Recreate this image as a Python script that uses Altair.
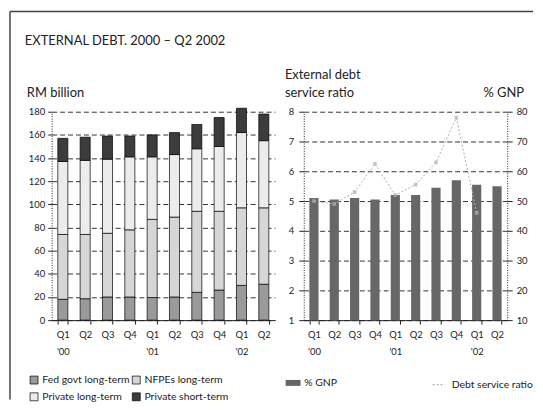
import altair as alt
import pandas as pd

# ---------------- data ----------------
quarters = ["Q1 '00", "Q2 '00", "Q3 '00", "Q4 '00", "Q1 '01", "Q2 '01",
            "Q3 '01", "Q4 '01", "Q1 '02", "Q2 '02"]
components = ["Fed govt long-term", "NFPEs long-term",
              "Private long-term", "Private short-term"]
fed_govt = [18, 18.5, 20, 20, 19.5, 20, 24, 26, 30, 31]
nfpes = [56, 55.5, 55, 58, 67.5, 69, 70, 68, 67, 66]
private_lt = [63, 64, 64, 63, 54, 54, 54, 56, 65, 58]
private_st = [20, 20, 20, 18, 19, 19, 21, 25, 21, 23]
pct_gnp = [51, 50.5, 51, 50.5, 52, 52, 54.5, 57, 55.5, 55]
debt_service = [5.0, 4.9, 5.3, 6.25, 5.2, 5.55, 6.3, 7.8, 4.6, None]

component_colors = {"Fed govt long-term": "#9a9a9a", "NFPEs long-term": "#d6d6d6",
                    "Private long-term": "#ececec", "Private short-term": "#3c3c3c"}
# legend fills column by column: order so rows read Fed/NFPEs, Private LT/ST
legend_order = ["Fed govt long-term", "Private long-term",
                "NFPEs long-term", "Private short-term"]

FONT = "Lato"
INK = "#222222"

rows = []
for i, (comp, vals) in enumerate(zip(components, [fed_govt, nfpes, private_lt, private_st])):
    for q, v in zip(quarters, vals):
        rows.append({"quarter": q, "component": comp, "value": v, "order": i})
left_df = pd.DataFrame(rows)

right_df = pd.DataFrame({"quarter": quarters, "gnp": pct_gnp, "gl": "% GNP"})
dsr_df = pd.DataFrame({"quarter": quarters, "dsr": debt_service,
                       "dl": "Debt service ratio"}).dropna()
one = pd.DataFrame({"k": [0]})

LABEL_EXPR = ("substring(datum.label,0,2) == 'Q1' ? "
              "[substring(datum.label,0,2), substring(datum.label,3)] : "
              "substring(datum.label,0,2)")

base_axis = dict(labelFont=FONT, labelFontSize=9.5, labelColor=INK,
                 tickColor=INK, domainColor=INK)


def x_enc():
    return alt.X("quarter:N", sort=quarters,
                 scale=alt.Scale(paddingInner=0.55, paddingOuter=0.275),
                 axis=alt.Axis(title=None, labelAngle=0, labelExpr=LABEL_EXPR,
                               labelLineHeight=17, tickBand="extent", tickSize=4,
                               labelPadding=6, **base_axis))


grid_style = dict(grid=True, gridDash=[5, 3], gridColor="black", gridWidth=0.8,
                  gridOpacity=1)

# ---------------- left panel ----------------
bars = alt.Chart(left_df).mark_bar(stroke="black", strokeWidth=0.7).encode(
    x=x_enc(),
    y=alt.Y("value:Q", stack="zero",
            scale=alt.Scale(domain=[0, 180], nice=False),
            axis=alt.Axis(title=None, values=list(range(0, 181, 20)),
                          domainDash=[1, 1.5], tickSize=4, labelPadding=3,
                          **grid_style, **base_axis)),
    color=alt.Color("component:N",
                    scale=alt.Scale(domain=legend_order,
                                    range=[component_colors[c] for c in legend_order]),
                    legend=alt.Legend(orient="none", legendX=-23, legendY=265,
                                      columns=2, title=None, symbolType="square",
                                      symbolSize=64, symbolStrokeColor="black",
                                      symbolStrokeWidth=0.7, labelFont=FONT,
                                      labelFontSize=10.5, labelColor=INK,
                                      columnPadding=0, rowPadding=5, padding=0,
                                      labelOffset=3)),
    order=alt.Order("order:Q"),
)

frame_left = alt.Chart(one).mark_rule(color="#444", strokeWidth=1.5).encode(
    x=alt.value(-42), y=alt.value(-101), y2=alt.value(290))
frame_top = alt.Chart(one).mark_rule(color="#444", strokeWidth=1.5).encode(
    x=alt.value(-42), x2=alt.value(485), y=alt.value(-101))

title_txt = alt.Chart(one).mark_text(
    text="EXTERNAL DEBT. 2000 – Q2 2002", align="left", baseline="middle",
    font=FONT, fontSize=13, color=INK).encode(x=alt.value(-27), y=alt.value(-71))
rm_txt = alt.Chart(one).mark_text(
    text="RM billion", align="left", baseline="middle",
    font=FONT, fontSize=13, color=INK).encode(x=alt.value(-25), y=alt.value(-19))

left = alt.layer(bars, frame_left, frame_top, title_txt, rm_txt).properties(
    width=225, height=210)

# ---------------- right panel ----------------
gnp_bars = alt.Chart(right_df).mark_bar().encode(
    x=x_enc(),
    y=alt.Y("gnp:Q", scale=alt.Scale(domain=[10, 80], nice=False, zero=False),
            axis=alt.Axis(orient="right", title=None,
                          values=list(range(10, 81, 10)), grid=False,
                          domainDash=[1, 1.5], tickSize=5, labelPadding=4,
                          **base_axis)),
    y2=alt.datum(10),
    fill=alt.Fill("gl:N", scale=alt.Scale(domain=["% GNP"], range=["#676767"]),
                  legend=alt.Legend(orient="none", legendX=-16, legendY=268,
                                    title=None,
                                    symbolType="M-1.5,-0.6H1.5V0.6H-1.5Z",
                                    symbolSize=100, symbolStrokeWidth=0,
                                    labelFont=FONT, labelFontSize=10.5,
                                    labelColor=INK, padding=0, labelOffset=6)),
)

dsr_scale = alt.Scale(domain=[1, 8], nice=False, zero=False)
dsr_line = alt.Chart(dsr_df).mark_line(strokeWidth=1, strokeDash=[2, 2]).encode(
    x=x_enc(),
    y=alt.Y("dsr:Q", scale=dsr_scale,
            axis=alt.Axis(orient="left", title=None, values=list(range(1, 9)),
                          domainDash=[1, 1.5], tickSize=5, labelPadding=5,
                          **grid_style, **base_axis)),
    stroke=alt.Stroke("dl:N",
                      scale=alt.Scale(domain=["Debt service ratio"], range=["#b0b0b0"]),
                      legend=alt.Legend(orient="none", legendX=129, legendY=268,
                                        title=None, symbolType="stroke",
                                        symbolDash=[2, 2], symbolSize=150,
                                        symbolStrokeWidth=1.2,
                                        labelFont=FONT, labelFontSize=10.5,
                                        labelColor=INK, padding=0, labelOffset=6)),
)
dsr_points = alt.Chart(dsr_df).mark_square(size=14, color="#b0b0b0").encode(
    x=x_enc(),
    y=alt.Y("dsr:Q", scale=dsr_scale, axis=None),
)

ext_txt1 = alt.Chart(one).mark_text(
    text="External debt", align="left", baseline="middle",
    font=FONT, fontSize=13, color=INK).encode(x=alt.value(-19), y=alt.value(-37))
ext_txt2 = alt.Chart(one).mark_text(
    text="service ratio", align="left", baseline="middle",
    font=FONT, fontSize=13, color=INK).encode(x=alt.value(-19), y=alt.value(-19))
gnp_txt = alt.Chart(one).mark_text(
    text="% GNP", align="right", baseline="middle",
    font=FONT, fontSize=13, color=INK).encode(x=alt.value(222), y=alt.value(-19))

right = alt.layer(gnp_bars, dsr_line, dsr_points, ext_txt1, ext_txt2, gnp_txt
                  ).resolve_scale(y="independent").properties(width=205, height=210)

chart = alt.hconcat(left, right, spacing=29, bounds="flush", padding=0
                    ).resolve_scale(color="independent", fill="independent",
                                    stroke="independent"
                    ).configure_view(stroke="transparent")

chart.save("out.html", embed_options={"renderer": "svg", "actions": False})
